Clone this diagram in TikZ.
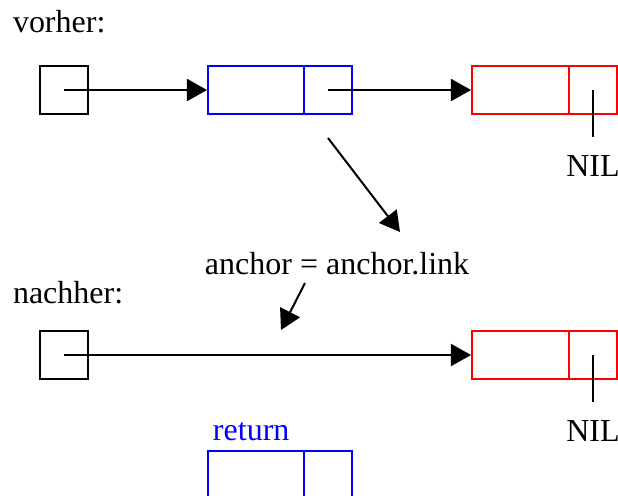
\documentclass[tikz,border=0pt]{standalone}
\usepackage{fontspec}
\setmainfont{Liberation Serif}
\usetikzlibrary{arrows.meta}
\begin{document}
\begin{tikzpicture}[x = 0.5pt, y = -0.5pt, line width = 1pt,
                        cell/.style = {rectangle, draw, inner sep = 0pt, minimum height = 24pt},
                        headcell/.style = {cell, draw = black, minimum width = 24pt},
                        datacell/.style = {cell, minimum width = 48pt},
                        linkcell/.style = {cell, minimum width = 24pt},
                        txt/.style = {inner sep = 0pt, font = \fontsize{16}{19}\selectfont},
                        nil/.style = {txt, anchor = base, inner sep = 8.5pt},
                        ptr/.style = {-{Triangle[length = 10pt, width = 11pt]}}]
      \clip (0, 0) rectangle (618, 495);
      \node [txt, anchor = base west] (before) at (12, 32){vorher:};
      \node [headcell] (h1) at (64.5, 90){};
      \node [datacell, blue] (b1) at (256, 90){};
      \node [linkcell, blue] (b2) at (328, 90){};
      \node [datacell, red, minimum width = 48.5pt] (r1) at (520.5, 90){};
      \node [linkcell, red] (r2) at (593, 90){};
      \node [nil] (nil1) at (593, 176){NIL};
      \draw [ptr] (h1.center) -- (b1.west);
      \draw [ptr] (b2.center) -- (r1.west);
      \draw (r2.center) -- (nil1.north);
      \coordinate (s1) at (328, 138);
      \coordinate (t1) at (400, 232);
      \draw [ptr] (s1) -- (t1);
      \node [txt, anchor = base west] (op) at (204, 274){anchor = anchor.link};
      \coordinate (s2) at (305, 283);
      \coordinate (t2) at (281, 330);
      \draw [ptr] (s2) -- (t2);
      \node [txt, anchor = base west] (after) at (12, 303){nachher:};
      \node [headcell] (h2) at (64.5, 355){};
      \node [datacell, red, minimum width = 48.5pt] (r3) at (520.5, 355){};
      \node [linkcell, red] (r4) at (593, 355){};
      \node [nil] (nil2) at (593, 441){NIL};
      \draw [ptr] (h2.center) -- (r3.west);
      \draw (r4.center) -- (nil2.north);
      \node [txt, anchor = base west, blue] (ret) at (212, 440){return};
      \node [datacell, blue] (b3) at (256, 475){};
      \node [linkcell, blue] (b4) at (328, 475){};
    \end{tikzpicture}
\end{document}
